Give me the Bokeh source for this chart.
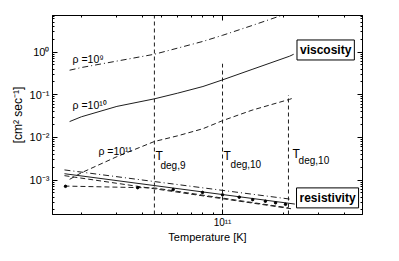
from bokeh.plotting import figure
from bokeh.models import FixedTicker, LogAxis, CustomJSTickFormatter, Label, Range1d
from bokeh.embed import file_html
from bokeh.resources import INLINE

# ---- data ----
visc_T = [1.75e10, 2.0e10, 3.0e10, 4.6e10, 6.0e10, 8.0e10, 1.0e11, 1.4e11, 2.15e11, 2.25e11]
visc_rho9 = [0.376, 0.434, 0.615, 0.889, 1.24, 1.78, 2.47, 4.19, 8.4, 9.1]
visc_rho10 = [0.0235, 0.0304, 0.0533, 0.0802, 0.109, 0.156, 0.223, 0.392, 0.802, 0.889]
visc_rho11 = [1.04e-3, 1.48e-3, 3.54e-3, 8.02e-3, 1.09e-2, 1.6e-2, 2.47e-2, 4.35e-2, 7.82e-2, 8.45e-2]

res_T = [1.65e10, 2.2e11]
res_dashdot = [1.73e-3, 3.54e-4]
res_solid_T = [1.65e10, 2.28e11]
res_solid = [1.41e-3, 2.74e-4]
res_dash = [1.27e-3, 2.12e-4]
res_dash2_T = [1.65e10, 4.6e10, 2.12e11]
res_dash2 = [7.24e-4, 6.54e-4, 2.23e-4]
res_dots_T = [1.67e10, 3.8e10, 5.7e10, 7.96e10, 1.0e11, 1.21e11, 1.41e11, 1.63e11, 1.83e11, 2.05e11]
res_dots = [7.13e-4, 6.64e-4, 6.0e-4, 5.14e-4, 4.5e-4, 3.98e-4, 3.48e-4, 3.19e-4, 2.93e-4, 2.7e-4]

T_deg = [4.6e10, 1.0e11, 2.12e11]
T_deg_top = [7.2, 0.533, 0.0985]
T_deg_names = ["deg,9", "deg,10", "deg,10"]

x_major = [1e11]
x_minor = [2e10, 3e10, 4e10, 5e10, 6e10, 7e10, 8e10, 9e10, 2e11, 3e11, 4e11]
y_major = [1e-3, 1e-2, 1e-1, 1e0]
y_minor = [m * 10.0 ** e for e in range(-4, 1) for m in range(2, 10)]

FONT = "Liberation Sans"
INK = "#1e1e1e"

p = figure(width=383, height=245, x_axis_type="log", y_axis_type="log",
           x_range=Range1d(1.44e10, 4.93e11), y_range=Range1d(1.56e-4, 7.2),
           output_backend="svg", toolbar_location=None,
           min_border_left=52, min_border_right=21, min_border_top=15, min_border_bottom=30)
p.grid.visible = False
p.outline_line_color = "black"
p.background_fill_color = "white"
p.border_fill_color = "white"

sup_code = """
const e = Math.round(Math.log10(tick));
const sup = {'-':'\u207b','0':'\u2070','1':'\u00b9','2':'\u00b2','3':'\u00b3','4':'\u2074','5':'\u2075','6':'\u2076','7':'\u2077','8':'\u2078','9':'\u2079'};
return '10' + String(e).split('').map(c => sup[c]).join('');
"""

def style_axis(ax, labels=True, tick_size="11px", label_size="12px"):
    ax.axis_line_color = "black"
    ax.major_tick_in = 5
    ax.major_tick_out = 0
    ax.minor_tick_in = 2
    ax.minor_tick_out = 0
    ax.major_tick_line_color = "black"
    ax.minor_tick_line_color = "black"
    if labels:
        ax.formatter = CustomJSTickFormatter(code=sup_code)
        ax.major_label_text_font = FONT
        ax.major_label_text_font_size = tick_size
        ax.major_label_text_color = "black"
        ax.major_label_standoff = 3
        ax.axis_label_text_font = FONT
        ax.axis_label_text_font_size = label_size
        ax.axis_label_text_font_style = "normal"
        ax.axis_label_text_color = "black"
        ax.axis_label_standoff = 2
    else:
        ax.formatter = CustomJSTickFormatter(code="return ''")
        ax.major_label_text_font_size = "1px"
        ax.major_label_standoff = 0

p.xaxis.ticker = FixedTicker(ticks=x_major, minor_ticks=x_minor)
p.yaxis.ticker = FixedTicker(ticks=y_major, minor_ticks=y_minor)
style_axis(p.xaxis[0], tick_size="10px", label_size="11px")
p.xaxis.major_label_standoff = 2
p.xaxis.axis_label_standoff = 0
style_axis(p.yaxis[0])
p.xaxis.axis_label = "Temperature [K]"
p.yaxis.axis_label = "[cm\u00b2 sec\u207b\u00b9]"

top = LogAxis(ticker=FixedTicker(ticks=x_major, minor_ticks=x_minor))
right = LogAxis(ticker=FixedTicker(ticks=y_major, minor_ticks=y_minor))
style_axis(top, labels=False)
style_axis(right, labels=False)
p.add_layout(top, "above")
p.add_layout(right, "right")

# viscosity curves
p.line(visc_T, visc_rho9, line_color=INK, line_width=1, line_dash="6 3 1 3")
p.line(visc_T, visc_rho10, line_color=INK, line_width=1)
p.line(visc_T, visc_rho11, line_color=INK, line_width=1, line_dash="5 3")

# resistivity lines
p.line(res_T, res_dashdot, line_color=INK, line_width=1, line_dash="6 3 1 3")
p.line(res_solid_T, res_solid, line_color=INK, line_width=1)
p.line(res_T, res_dash, line_color=INK, line_width=1, line_dash="5 3")
p.line(res_dash2_T, res_dash2, line_color=INK, line_width=1, line_dash="5 3")
p.scatter(res_dots_T, res_dots, size=2.5, color="black")

# degeneracy temperatures
y_bottom = [p.y_range.start] * len(T_deg)
p.segment(x0=T_deg, y0=y_bottom, x1=T_deg, y1=T_deg_top, line_color=INK, line_width=1, line_dash="4 3")

def lab(x, y, text, size, style="normal", align="left", baseline="alphabetic", **kw):
    l = Label(x=x, y=y, text=text, text_font=FONT, text_font_size=size, text_font_style=style,
              text_align=align, text_baseline=baseline, text_color="black", **kw)
    p.add_layout(l)
    return l

lab(1.81e10, 0.689, "\u03c1 =10\u2079", "10.5px")
lab(1.81e10, 0.059, "\u03c1 =10\u00b9\u2070", "10.5px")
lab(2.43e10, 4.81e-3, "\u03c1 =10\u00b9\u00b9", "10.5px")

lab(4.66e10, 3.73e-3, "T", "12px")
lab(4.93e10, 2.23e-3, T_deg_names[0], "10px")
lab(1.011e11, 3.73e-3, "T", "12px")
lab(1.096e11, 2.35e-3, T_deg_names[1], "10px")
lab(2.22e11, 4.13e-3, "T", "12px")
lab(2.38e11, 2.93e-3, T_deg_names[2], "10px")

lab(3.24e11, 1.12, "viscosity", "12px", style="bold", align="center", baseline="middle",
    background_fill_color="white", border_line_color="black", border_line_width=1, padding=3)
lab(3.31e11, 3.82e-4, "resistivity", "12px", style="bold", align="center", baseline="middle",
    background_fill_color="white", border_line_color="black", border_line_width=1, padding=3)

open("out.html", "w").write(file_html(p, INLINE))
